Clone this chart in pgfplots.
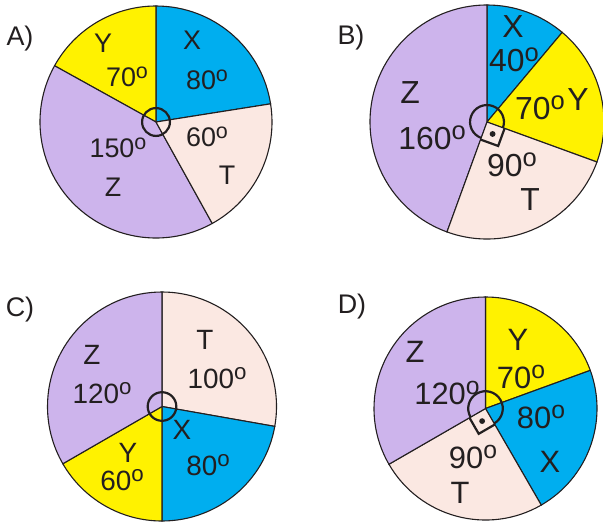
\documentclass[border=0pt]{standalone}
\usepackage{pgfplots}
\pgfplotsset{compat=1.18}
\usepackage{fontspec}
\setmainfont{Liberation Sans}
\usepackage{graphicx}

\definecolor{cX}{RGB}{0,174,239}
\definecolor{cY}{RGB}{255,242,0}
\definecolor{cZ}{RGB}{205,180,236}
\definecolor{cT}{RGB}{251,232,226}
\definecolor{ink}{RGB}{35,31,32}

% degree sign drawn as a raised small o
\newcommand{\dg}{\raisebox{0.3em}{\scalebox{0.8}{o}}}

% one slice: start angle, end angle (counterclockwise), colour
\newcommand{\slice}[3]{%
  \addplot[fill=#3, draw=ink, line width=1.1bp, mark=none, data cs=polar]
    coordinates {(0,0) (#1,1)} arc[start angle=#1, end angle=#2, radius=1] -- cycle;}

\pgfplotsset{pie/.style={hide axis, xmin=-1, xmax=1, ymin=-1, ymax=1,
  clip=false, anchor=center}}

\begin{document}
\begin{tikzpicture}

% A
\begin{axis}[pie, x=116bp, y=116bp, at={(156bp,-122bp)}]
\slice{9}{90}{cX}
\slice{90}{151}{cY}
\slice{151}{299}{cZ}
\slice{-61}{9}{cT}
\draw[ink, line width=2.2bp] (axis cs:0,0) circle[radius=0.12];
\end{axis}

% B
\begin{axis}[pie, x=117bp, y=117bp, at={(487bp,-122bp)}]
\slice{50}{90}{cX}
\slice{-20}{50}{cY}
\slice{90}{250}{cZ}
\slice{-110}{-20}{cT}
\draw[ink, line width=2.2bp] (axis cs:{0.145*cos(-20)},{0.145*sin(-20)}) arc[start angle=-20, end angle=250, radius=0.145];
\draw[ink, line width=2.2bp] (axis cs:{0.16*cos(-20)},{0.16*sin(-20)}) -- (axis cs:{0.226*cos(-65)},{0.226*sin(-65)}) -- (axis cs:{0.16*cos(-110)},{0.16*sin(-110)});
\fill[ink] (axis cs:{0.113*cos(-65)},{0.113*sin(-65)}) circle[radius=0.025];
\end{axis}

% C
\begin{axis}[pie, x=114.5bp, y=114.5bp, at={(162bp,-406.5bp)}]
\slice{-10}{90}{cT}
\slice{-90}{-10}{cX}
\slice{-150}{-90}{cY}
\slice{90}{210}{cZ}
\draw[ink, line width=2.2bp] (axis cs:0,0) circle[radius=0.125];
\end{axis}

% D
\begin{axis}[pie, x=111.5bp, y=111.5bp, at={(485.5bp,-408.5bp)}]
\slice{20}{90}{cY}
\slice{-60}{20}{cX}
\slice{-150}{-60}{cT}
\slice{90}{210}{cZ}
\draw[ink, line width=2.2bp] (axis cs:{0.155*cos(-60)},{0.155*sin(-60)}) arc[start angle=-60, end angle=210, radius=0.155];
\draw[ink, line width=2.2bp] (axis cs:{0.166*cos(-60)},{0.166*sin(-60)}) -- (axis cs:{0.235*cos(-105)},{0.235*sin(-105)}) -- (axis cs:{0.166*cos(-150)},{0.166*sin(-150)});
\fill[ink] (axis cs:{0.117*cos(-105)},{0.117*sin(-105)}) circle[radius=0.026];
\end{axis}

% labels
\begin{scope}[x=1bp, y=-1bp, every node/.style={text=ink, inner sep=0pt}]
\node[font=\fontsize{27}{27}\selectfont] at (20,39) {A)};
\node[font=\fontsize{27}{27}\selectfont] at (351,38) {B)};
\node[font=\fontsize{27}{27}\selectfont] at (20,310) {C)};
\node[font=\fontsize{27}{27}\selectfont] at (352,307) {D)};

\begin{scope}[every node/.append style={font=\fontsize{27}{27}\selectfont}]
\node at (103,43) {Y};
\node at (127,77) {70\dg};
\node at (192,40) {X};
\node at (207,80) {80\dg};
\node at (207,137) {60\dg};
\node at (227,175) {T};
\node at (118,148) {150\dg};
\node at (113,187) {Z};
\end{scope}

\begin{scope}[every node/.append style={font=\fontsize{32}{32}\selectfont}]
\node at (513,27) {X};
\node at (514,60) {40\dg};
\node at (540,108) {70\dg};
\node at (578,100) {Y};
\node at (410,93) {Z};
\node at (432,138) {160\dg};
\node at (512,165) {90\dg};
\node at (530,200) {T};
\end{scope}

\begin{scope}[every node/.append style={font=\fontsize{28}{28}\selectfont}]
\node at (92,355) {Z};
\node at (102,393) {120\dg};
\node at (205,340) {T};
\node at (217,378) {100\dg};
\node at (182,430) {X};
\node at (208,465) {80\dg};
\node at (128,453) {Y};
\node at (122,480) {60\dg};
\end{scope}

\begin{scope}[every node/.append style={font=\fontsize{31}{31}\selectfont}]
\node at (415,352) {Z};
\node at (447,393) {120\dg};
\node at (518,340) {Y};
\node at (521,377) {70\dg};
\node at (541,417) {80\dg};
\node at (550,462) {X};
\node at (473,457) {90\dg};
\node at (460,493) {T};
\end{scope}
\end{scope}

\pgfresetboundingbox
\path[use as bounding box] (0,0) rectangle (603bp,-523bp);
\end{tikzpicture}
\end{document}
